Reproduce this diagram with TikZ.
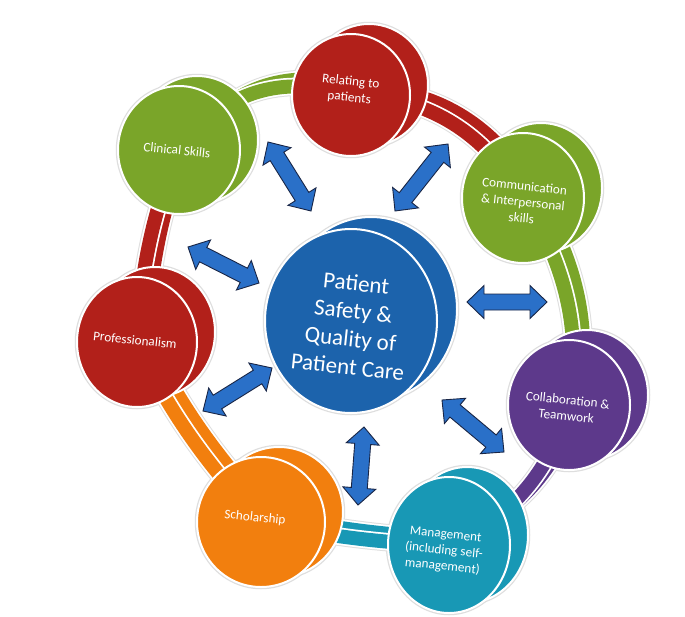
\documentclass[tikz,border=0pt]{standalone}
\usepackage{fontspec}
\setmainfont{Carlito}
\usetikzlibrary{shapes.geometric,calc}
\pgfdeclarelayer{halo}
\pgfdeclarelayer{bands}
\pgfsetlayers{halo,bands,main}
\definecolor{cred}{RGB}{178,32,26}
\definecolor{cgreen}{RGB}{122,165,41}
\definecolor{cpurple}{RGB}{93,57,139}
\definecolor{cteal}{RGB}{24,152,181}
\definecolor{corange}{RGB}{242,127,14}
\definecolor{cblue}{RGB}{28,99,172}
\definecolor{arrblue}{RGB}{42,112,200}
\definecolor{arrline}{RGB}{25,38,70}
\tikzset{
  halo/.style={draw=black!13, line width=4.5},
  discshape/.style={ellipse, draw=white, line width=2, inner sep=0, outer sep=0},
  bandhalo/.style={draw=black!13, line width=19.5},
  bandstrip/.style={draw=#1, line width=14, preaction={draw=white, line width=17.5}},
  barrow/.style={fill=arrblue, draw=arrline, line width=0.9, line join=miter},
  lbl/.style={text=white, font=\fontsize{13.2}{16}\selectfont, align=center, rotate=-6, inner sep=1pt},
  ctext/.style={text=white, font=\fontsize{23}{28}\selectfont, align=center, rotate=-6}
}
% name, x, y, rx, ry, colour, dx, dy(up)
\newcommand\disc[8]{%
  \begin{pgfonlayer}{halo}
    \draw[halo] (#2+#7,#3-#8) ellipse [x radius=#4, y radius=#5];
    \draw[halo] (#2,#3) ellipse [x radius=#4, y radius=#5];
  \end{pgfonlayer}
  \node[discshape, fill=#6, minimum width=2*#4, minimum height=2*#5] (#1b) at (#2+#7,#3-#8) {};
  \node[discshape, fill=#6, minimum width=2*#4, minimum height=2*#5] (#1) at (#2,#3) {};
}
% from, to, control, colour
\newcommand\band[4]{%
  \begin{pgfonlayer}{bands}
    \draw[bandhalo] ($(#1)+(10,-7)$) .. controls ($(#1)!0.6667!(#3)+(10,-7)$) and ($(#2)!0.6667!(#3)+(10,-7)$) .. ($(#2)+(10,-7)$);
    \draw[bandhalo] (#1.center) .. controls ($(#1)!0.6667!(#3)$) and ($(#2)!0.6667!(#3)$) .. (#2.center);
    \draw[bandstrip=#4] ($(#1)+(10,-7)$) .. controls ($(#1)!0.6667!(#3)+(10,-7)$) and ($(#2)!0.6667!(#3)+(10,-7)$) .. ($(#2)+(10,-7)$);
    \draw[bandstrip=#4] (#1.center) .. controls ($(#1)!0.6667!(#3)$) and ($(#2)!0.6667!(#3)$) .. (#2.center);
  \end{pgfonlayer}
}
\newcommand\blockarr[2]{%
  \draw[barrow] (#1)
    -- ($(#1)!17pt!(#2)!16.5pt!90:(#2)$)
    -- ($(#1)!17pt!(#2)!8pt!90:(#2)$)
    -- ($(#2)!17pt!(#1)!8pt!-90:(#1)$)
    -- ($(#2)!17pt!(#1)!16.5pt!-90:(#1)$)
    -- (#2)
    -- ($(#2)!17pt!(#1)!16.5pt!90:(#1)$)
    -- ($(#2)!17pt!(#1)!8pt!90:(#1)$)
    -- ($(#1)!17pt!(#2)!8pt!-90:(#2)$)
    -- ($(#1)!17pt!(#2)!16.5pt!-90:(#2)$)
    -- cycle;
}
\begin{document}
\begin{tikzpicture}[x=1pt, y=-1pt]
\useasboundingbox (0,0) rectangle (685,616);
\begin{pgfonlayer}{halo}
\fill[white] (0,0) rectangle (685,616);
\end{pgfonlayer}

% discs
\disc{clin}{179}{150}{61}{64}{cgreen}{18}{10}
\disc{rel}{351}{95}{59}{61}{cred}{18}{10}
\disc{comm}{523}{198}{61}{65}{cgreen}{18}{10}
\disc{coll}{569}{405}{61}{65}{cpurple}{18}{10}
\disc{mgmt}{449}{545}{61}{68}{cteal}{18}{10}
\disc{schol}{261}{522}{64}{65}{corange}{18}{10}
\disc{prof}{137}{342}{60}{65}{cred}{18}{10}
\disc{cent}{351}{321}{86}{92}{cblue}{20}{12}

% band control points
\coordinate (k1) at (245,63);
\coordinate (k2) at (463,97);
\coordinate (k3) at (588,298);
\coordinate (k4) at (541,505);
\coordinate (k5) at (355,543);
\coordinate (k6) at (177,434);
\coordinate (k7) at (142,234);

\band{clin}{rel}{k1}{cgreen}
\band{rel}{comm}{k2}{cred}
\band{comm}{coll}{k3}{cgreen}
\band{coll}{mgmt}{k4}{cpurple}
\band{mgmt}{schol}{k5}{cteal}
\band{schol}{prof}{k6}{corange}
\band{prof}{clin}{k7}{cred}

% labels
\node[lbl] (clinT) at (177,150) {Clinical Skills};
\node[lbl] (relT) at (350,90) {Relating to\\patients};
\node[lbl] (commT) at (523,202) {Communication\\\& Interpersonal\\skills};
\node[lbl] (collT) at (567,408) {Collaboration \&\\Teamwork};
\node[lbl] (mgmtT) at (444,551) {Management\\(including self-\\management)};
\node[lbl] (scholT) at (255,518) {Scholarship};
\node[lbl] (profT) at (135,340) {Professionalism};
\node[ctext] (centT) at (352,325) {Patient\\Safety \&\\Quality of\\Patient Care};

% arrows
\coordinate (a1s) at (268,142); \coordinate (a1e) at (311,211);
\coordinate (a2s) at (448,144); \coordinate (a2e) at (395,211);
\coordinate (a3s) at (467,302); \coordinate (a3e) at (547,302);
\coordinate (a4s) at (442,400); \coordinate (a4e) at (504,452);
\coordinate (a5s) at (364,427); \coordinate (a5e) at (358,505);
\coordinate (a6s) at (272,368); \coordinate (a6e) at (203,411);
\coordinate (a7s) at (188,247); \coordinate (a7e) at (259,283);
\blockarr{a1s}{a1e}
\blockarr{a2s}{a2e}
\blockarr{a3s}{a3e}
\blockarr{a4s}{a4e}
\blockarr{a5s}{a5e}
\blockarr{a6s}{a6e}
\blockarr{a7s}{a7e}
\end{tikzpicture}
\end{document}
